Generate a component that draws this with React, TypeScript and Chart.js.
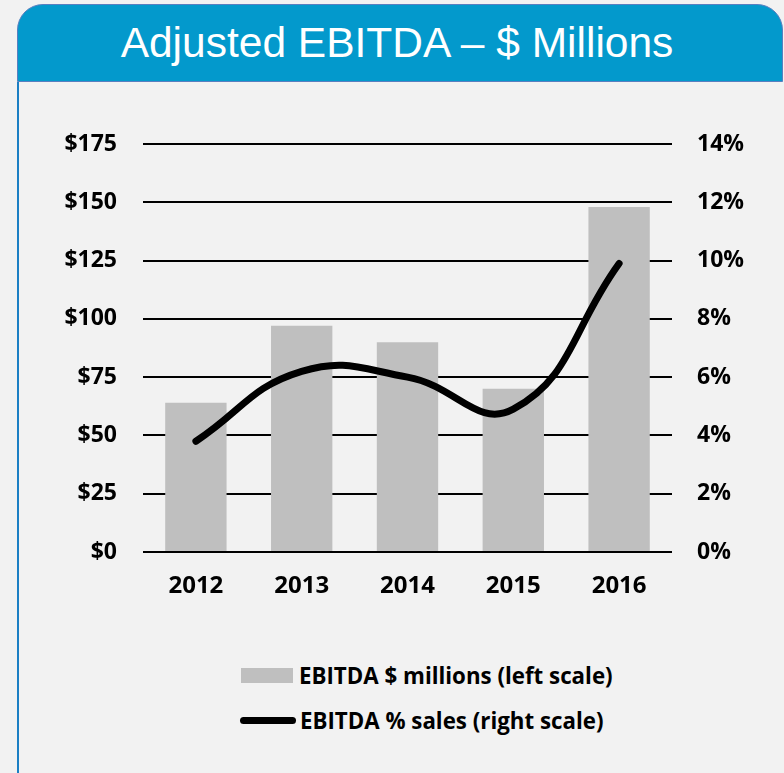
import React, { useEffect, useRef } from 'react';
import { Chart, registerables } from 'chart.js';

Chart.register(...registerables);

const years: string[] = ['2012', '2013', '2014', '2015', '2016'];
const ebitdaMillions: number[] = [64, 97, 90, 70, 148];
const ebitdaPctSales: number[] = [3.8, 6.2, 6.0, 4.9, 9.9];
const leftAxisMax = 175;
const leftAxisStep = 25;
const rightAxisMax = 14;
const rightAxisStep = 2;
const titleText = 'Adjusted EBITDA – $ Millions';
const barLegendLabel = 'EBITDA $ millions (left scale)';
const lineLegendLabel = 'EBITDA % sales (right scale)';

const FONT = '"Open Sans", Lato, sans-serif';
const BAR_COLOR = '#bfbfbf';

export default function App() {
  const canvasRef = useRef<HTMLCanvasElement | null>(null);

  useEffect(() => {
    const canvas = canvasRef.current;
    if (!canvas) return;
    const yFont = { family: FONT, size: 23, weight: 'bold' as const };
    const xFont = { family: FONT, size: 24, weight: 'bold' as const };
    const chart = new Chart(canvas, {
      type: 'bar',
      data: {
        labels: years,
        datasets: [
          {
            type: 'line',
            label: lineLegendLabel,
            data: ebitdaPctSales,
            yAxisID: 'yRight',
            borderColor: '#000000',
            backgroundColor: '#000000',
            borderWidth: 7,
            borderCapStyle: 'round',
            borderJoinStyle: 'round',
            tension: 0.45,
            pointRadius: 0,
            pointHoverRadius: 0,
            fill: false,
            order: 0,
          } as any,
          {
            type: 'bar',
            label: barLegendLabel,
            data: ebitdaMillions,
            yAxisID: 'yLeft',
            backgroundColor: BAR_COLOR,
            borderWidth: 0,
            barPercentage: 0.58,
            categoryPercentage: 1,
            order: 1,
          } as any,
        ],
      },
      options: {
        responsive: false,
        animation: false,
        devicePixelRatio: 1,
        layout: { padding: { top: 62, left: 0, right: 0, bottom: 0 } },
        plugins: {
          legend: { display: false },
          tooltip: { enabled: false },
          title: { display: false },
        },
        scales: {
          x: {
            offset: true,
            grid: { display: false, drawTicks: false },
            border: { display: false },
            ticks: { font: xFont, color: '#000000', padding: 20, maxRotation: 0 },
            afterFit: (s: any) => {
              s.height = 70;
            },
          },
          yLeft: {
            type: 'linear',
            position: 'left',
            min: 0,
            max: leftAxisMax,
            ticks: {
              stepSize: leftAxisStep,
              font: yFont,
              color: '#000000',
              padding: 26,
              callback: (v: any) => '$' + v,
            },
            grid: { color: '#000000', lineWidth: 2, drawTicks: false },
            border: { display: false },
            afterFit: (s: any) => {
              s.width = 143;
            },
          },
          yRight: {
            type: 'linear',
            position: 'right',
            min: 0,
            max: rightAxisMax,
            ticks: {
              stepSize: rightAxisStep,
              font: yFont,
              color: '#000000',
              padding: 25,
              callback: (v: any) => v + '%',
            },
            grid: { display: false, drawTicks: false },
            border: { display: false },
            afterFit: (s: any) => {
              s.width = 112;
            },
          },
        },
      } as any,
    });
    return () => chart.destroy();
  }, []);

  return (
    <div
      style={{
        position: 'absolute',
        left: 0,
        top: 0,
        width: 784,
        height: 773,
        background: '#f2f2f2',
        overflow: 'hidden',
      }}
    >
      <div
        style={{
          position: 'absolute',
          left: 17,
          top: 82,
          width: 2,
          height: 700,
          background: '#1b7fc4',
        }}
      />
      <div
        style={{
          position: 'absolute',
          left: 17,
          top: 4,
          width: 766,
          height: 78,
          boxSizing: 'border-box',
          background: '#0399cc',
          border: '1.5px solid #5a7fc0',
          borderRadius: '26px 26px 0 0',
          display: 'flex',
          alignItems: 'center',
          justifyContent: 'center',
          paddingRight: 6,
        }}
      >
        <span
          style={{
            color: '#ffffff',
            fontFamily: '"Liberation Sans", Arial, sans-serif',
            fontSize: 42.5,
            lineHeight: 1,
            whiteSpace: 'nowrap',
          }}
        >
          {titleText}
        </span>
      </div>
      <canvas
        ref={canvasRef}
        width={784}
        height={540}
        style={{ position: 'absolute', left: 0, top: 82, width: 784, height: 540 }}
      />
      <div
        style={{
          position: 'absolute',
          left: 241,
          top: 662,
          height: 26,
          display: 'flex',
          alignItems: 'center',
          fontFamily: FONT,
          fontWeight: 'bold',
          fontSize: 22.3,
          color: '#000000',
          whiteSpace: 'nowrap',
        }}
      >
        <div style={{ width: 52, height: 15, background: BAR_COLOR, marginRight: 6 }} />
        <span>{barLegendLabel}</span>
      </div>
      <div
        style={{
          position: 'absolute',
          left: 240,
          top: 707,
          height: 26,
          display: 'flex',
          alignItems: 'center',
          fontFamily: FONT,
          fontWeight: 'bold',
          fontSize: 22.3,
          color: '#000000',
          whiteSpace: 'nowrap',
        }}
      >
        <div style={{ width: 56, height: 7, borderRadius: 4, background: '#000000', marginRight: 4 }} />
        <span>{lineLegendLabel}</span>
      </div>
    </div>
  );
}
